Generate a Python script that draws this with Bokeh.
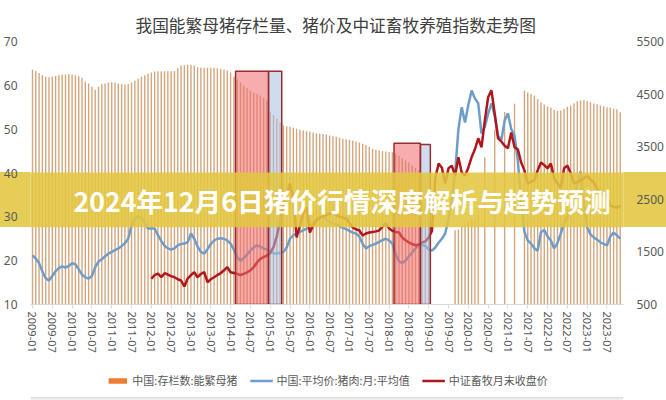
import numpy as np
from bokeh.plotting import figure
from bokeh.layouts import column
from bokeh.models import (Range1d, LinearAxis, FixedTicker, ColumnDataSource,
                          Legend, LegendItem, BoxAnnotation, Label, Span, InlineStyleSheet)
from bokeh.embed import file_html
from bokeh.resources import INLINE

# ---------------- data ----------------
months = [f"{y}-{m:02d}" for y in range(2009, 2024) for m in range(1, 13)][:179]  # 2009-01 .. 2023-11

tick_labels = ["2009-01", "2009-07", "2010-01", "2010-07", "2011-01", "2011-07",
               "2012-01", "2012-07", "2013-01", "2013-07", "2014-01", "2014-07",
               "2015-01", "2015-07", "2016-01", "2016-07", "2017-01", "2017-07",
               "2018-01", "2018-07", "2019-01", "2019-07", "2020-01", "2020-07",
               "2021-01", "2021-07", "2022-01", "2022-07", "2023-01", "2023-07"]

left_ticks = [10, 20, 30, 40, 50, 60, 70]
right_ticks = [500, 1500, 2500, 3500, 4500, 5500]

# 中国:存栏数:能繁母猪 (万头, right axis)
sows = [4967, 4940, 4900, 4860, 4830, 4821, 4830, 4845, 4860, 4870, 4872, 4880,
        4872, 4860, 4840, 4810, 4740, 4700, 4640, 4581, 4640, 4690, 4700, 4720,
        4726, 4720, 4700, 4690, 4682, 4690, 4720, 4760, 4790, 4830, 4860, 4886,
        4910, 4929, 4935, 4935, 4935, 4935, 4935, 4940, 4990, 5043, 5050, 5057,
        5057, 5040, 5011, 5005, 5000, 5000, 5000, 4995, 4990, 4981, 4970, 4950,
        4910, 4830, 4777, 4720, 4660, 4610, 4568, 4530, 4500, 4473, 4430, 4380,
        4156, 4100, 4030, 3960, 3903, 3890, 3880, 3860, 3840, 3821, 3810, 3800,
        3790, 3770, 3757, 3750, 3740, 3730, 3713, 3700, 3690, 3669, 3650, 3640,
        3630, 3618, 3600, 3580, 3555, 3530, 3500, 3460, 3440, 3430, 3414, 3410,
        3400, 3395, 3370, 3330, 3280, 3237, 3200, 3142, 3100, 3050, 3000, 2950,
        2900, None, None, None, None, None, None, None, 1913, 1924, 1990, 2040,
        2080, 2120, 2160, 2200, None, 3300, None, None, 3822, None, None, 4161,
        None, None, 4318, None, None, 4564, 4530, 4500, 4473, 4400, 4346, 4300,
        4264, 4239, 4200, 4177, 4190, 4220, 4260, 4283, 4324, 4365, 4379, 4390,
        4370, 4346, 4320, 4305, 4284, 4270, 4251, 4240, 4220, 4210, 4156]

# 中国:平均价:猪肉:月:平均值 (元/公斤, left axis)
pork_price = [21.2, 20.5, 19.4, 17.5, 16.0, 15.5, 16.5, 17.6, 18.3, 18.7, 18.4, 18.8,
              19.4, 19.2, 18.0, 16.8, 16.2, 15.9, 16.5, 18.5, 19.8, 20.3, 21.0, 21.6,
              22.0, 22.4, 22.8, 23.3, 24.0, 25.0, 28.0, 29.5, 30.1, 29.8, 28.5, 27.3,
              27.4, 27.3, 25.8, 24.5, 23.4, 22.8, 22.5, 22.8, 23.5, 23.8, 23.9, 24.2,
              26.2, 25.0, 23.2, 22.0, 21.6, 22.6, 23.8, 24.6, 25.0, 25.1, 25.0, 24.6,
              23.9, 22.5, 20.8, 20.0, 20.6, 21.4, 22.3, 23.0, 23.5, 23.2, 22.8, 22.5,
              22.0, 21.7, 21.6, 21.8, 22.0, 23.0, 25.0, 25.8, 26.2, 26.6, 26.9, 27.3,
              27.8, 28.6, 29.3, 29.8, 30.0, 29.4, 28.8, 28.5, 28.3, 27.9, 27.5, 27.2,
              26.8, 26.4, 26.2, 25.5, 23.8, 22.8, 23.3, 23.6, 23.9, 24.3, 24.7, 25.0,
              24.6, 23.9, 21.5, 19.8, 19.5, 20.0, 21.0, 21.9, 22.8, 23.5, 23.6, 23.3,
              22.6, 22.3, 23.0, 24.1, 25.0, 26.2, 29.5, 34.0, 40.0, 50.0, 55.0, 51.5,
              55.5, 58.8, 57.0, 55.9, 49.0, 50.5, 53.5, 55.9, 53.0, 48.5, 47.5, 52.0,
              53.6, 50.0, 48.5, 42.9, 33.0, 26.6, 24.6, 23.9, 22.8, 22.3, 26.5, 27.0,
              25.5, 24.6, 22.8, 24.0, 26.2, 28.5, 30.0, 31.5, 33.7, 37.5, 40.3, 33.0,
              27.6, 26.0, 25.3, 24.8, 24.2, 23.8, 23.5, 25.5, 26.4, 25.8, 25.0]

# 中证畜牧月末收盘价 (right axis), starts 2012-01
index_close = [None] * 36 + [
    989, 1060, 1089, 1019, 1095, 1070, 1040, 1019, 980, 956, 842, 994,
    1060, 1114, 1019, 1080, 1114, 924, 980, 1019, 1060, 1095, 1150, 1209,
    1114, 1100, 1083, 1060, 1083, 1110, 1150, 1209, 1300, 1368, 1399, 1430,
    1480, 1589, 1800, 2097, 2450, 2610, 2800, 2500, 1774, 2000, 2230, 2344,
    1869, 2000, 2097, 2150, 2180, 2200, 2230, 2230, 2200, 2170, 2150, 2135,
    2050, 1964, 1930, 1907, 1812, 1850, 1869, 1880, 1890, 1907, 1980, 2040,
    1950, 1900, 1880, 1869, 1774, 1720, 1679, 1650, 1622, 1640, 1679, 1700,
    1774, 1900, 2900, 3180, 3100, 2800, 3090, 3140, 2950, 3300, 3010, 2950,
    3100, 3300, 3450, 3660, 3490, 4000, 4440, 4570, 4130, 3660, 3600, 3520,
    3470, 3770, 3490, 3450, 3200, 3050, 2800, 2830, 2860, 3050, 3200, 3150,
    3090, 3180, 2900, 2800, 2720, 3090, 3140, 3000, 2800, 2830, 2860, 2900,
    2950, 2880, 2820, 2700, 2610, 2590, 2570, 2380, 2360, 2340, 2380]

# highlighted periods (red = sow herd falling, blue = following months)
highlight_from = ["2014-03", "2015-01", "2018-03", "2018-11"]
highlight_to = ["2014-12", "2015-04", "2018-10", "2019-01"]
highlight_top = [63.2, 63.2, 46.8, 46.5]
highlight_kind = ["red", "blue", "red", "blue"]

title_text = "我国能繁母猪存栏量、猪价及中证畜牧养殖指数走势图"
banner_text = "2024年12月6日猪价行情深度解析与趋势预测"
legend_labels = ["中国:存栏数:能繁母猪", "中国:平均价:猪肉:月:平均值", "中证畜牧月末收盘价"]

# ---------------- style constants ----------------
CJK = "Noto Sans CJK SC"
BAR_COLOR = "#D4A57C"
LEGEND_BAR_COLOR = "#ED7D31"
BLUE = "#6F9DC9"
RED = "#B0171D"
BANNER = "#E6CD57"

# ---------------- main chart ----------------
x = np.arange(len(months))
src = ColumnDataSource(dict(
    x=x,
    sows=np.array(sows, dtype=float),
    price=np.array(pork_price, dtype=float),
    idx=np.array(index_close, dtype=float),
))

p = figure(width=666, height=360, x_range=Range1d(-0.6, 179.0), y_range=Range1d(10, 70),
           output_backend="svg", toolbar_location=None,
           min_border_left=26, min_border_right=39, min_border_top=41, min_border_bottom=56)
p.extra_y_ranges = {"right": Range1d(500, 5500)}
p.grid.visible = False
p.outline_line_color = None
p.background_fill_color = "white"
p.border_fill_color = None
# banner stripe seen behind the axis margins (the frame part is drawn by a BoxAnnotation)
p.stylesheets = [InlineStyleSheet(css=(
    ":host { background: linear-gradient(to bottom, #ffffff 0px, #ffffff 172px, "
    f"{BANNER} 172px, {BANNER} 227px, #ffffff 227px, #ffffff 100%); }}"))]

# title
p.title.text = title_text
p.title.align = "left"
p.title.offset = 105
p.title.text_font = CJK
p.title.text_font_size = "16.7px"
p.title.text_font_style = "normal"
p.title.text_color = "#404040"

# bars
p.vbar(x="x", top="sows", bottom=500, width=0.42, source=src, y_range_name="right",
       fill_color=BAR_COLOR, line_color=None)

# lines
p.line("x", "price", source=src, line_color=BLUE, line_width=2.5)
p.line("x", "idx", source=src, y_range_name="right", line_color=RED, line_width=2.5)

# highlight boxes
m_index = {m: i for i, m in enumerate(months)}
hl_src = ColumnDataSource(dict(
    left=[m_index[a] - 0.5 for a in highlight_from],
    right=[m_index[b] + 0.5 for b in highlight_to],
    top=highlight_top,
    bottom=[10] * len(highlight_top),
    color=["#F06A6A" if k == "red" else "#A5C0E4" for k in highlight_kind],
))
p.quad(left="left", right="right", top="top", bottom="bottom", source=hl_src,
       fill_color="color", fill_alpha=0.55, line_color="#9B2B2E", line_width=1.5)

# axes
p.xaxis.ticker = FixedTicker(ticks=[m_index[t] for t in tick_labels])
p.xaxis.major_label_overrides = {m_index[t]: t for t in tick_labels}
p.xaxis.major_label_orientation = "vertical"
p.xaxis.major_label_text_font = "Noto Sans"
p.xaxis.major_label_text_font_size = "11px"
p.xaxis.major_label_text_color = "#595959"
p.xaxis.axis_line_color = "#D9D9D9"
p.xaxis.major_tick_line_color = "#D9D9D9"
p.xaxis.major_tick_out = 4
p.xaxis.major_tick_in = 0
p.xaxis.minor_tick_line_color = None
p.xaxis.major_label_standoff = 3

p.yaxis.ticker = FixedTicker(ticks=left_ticks)
right_axis = LinearAxis(y_range_name="right", ticker=FixedTicker(ticks=right_ticks))
p.add_layout(right_axis, "right")
for ax in (p.yaxis[0], right_axis):
    ax.axis_line_color = None
    ax.major_tick_line_color = None
    ax.minor_tick_line_color = None
    ax.major_label_text_font = "Noto Sans"
    ax.major_label_text_font_size = "12px"
    ax.major_label_text_color = "#595959"
    ax.major_label_standoff = 7

# banner overlay inside the frame
p.add_layout(BoxAnnotation(left=-100, right=1000, left_units="screen", right_units="screen",
                           bottom=27.6, top=40.1, fill_color="#E3C640", fill_alpha=0.88,
                           line_color=None, level="overlay"))
p.add_layout(Label(x=311.5, x_units="screen", y=33.8, text=banner_text,
                   text_align="center", text_baseline="middle",
                   text_font=CJK, text_font_size="26.7px", text_font_style="bold",
                   text_color="white", level="overlay"))

# ---------------- legend strip ----------------
lg = figure(width=666, height=40, x_range=Range1d(0, 1), y_range=Range1d(0, 1),
            output_backend="svg", toolbar_location=None,
            min_border_left=0, min_border_right=0, min_border_top=0, min_border_bottom=0)
lg.axis.visible = False
lg.grid.visible = False
lg.outline_line_color = None
lg.background_fill_color = "white"
lg.border_fill_color = "white"
# legend carriers sit outside the visible range of this strip
r_bar = lg.vbar(x=[0.5], top=[-2], bottom=[-3], width=0.01, fill_color=LEGEND_BAR_COLOR, line_color=None)
r_blue = lg.line(x=[0, 1], y=[-2, -2], line_color=BLUE, line_width=2.5)
r_red = lg.line(x=[0, 1], y=[-2, -2], line_color=RED, line_width=2.5)
legend = Legend(items=[LegendItem(label=legend_labels[0], renderers=[r_bar]),
                       LegendItem(label=legend_labels[1], renderers=[r_blue]),
                       LegendItem(label=legend_labels[2], renderers=[r_red])],
                orientation="horizontal", location="center",
                label_text_font=CJK, label_text_font_size="11px", label_text_color="#595959",
                glyph_width=23, glyph_height=7, spacing=12, label_standoff=4,
                border_line_color=None, background_fill_alpha=0, padding=2, margin=0)
lg.add_layout(legend)
lg.add_layout(BoxAnnotation(bottom=0, top=0.07, fill_color="#EFEFEF", fill_alpha=1, line_color=None))
lg.add_layout(Span(location=0.07, dimension="width", line_color="#D6D6D6", line_width=1))

open("out.html", "w").write(file_html(column(p, lg, spacing=0), INLINE))
